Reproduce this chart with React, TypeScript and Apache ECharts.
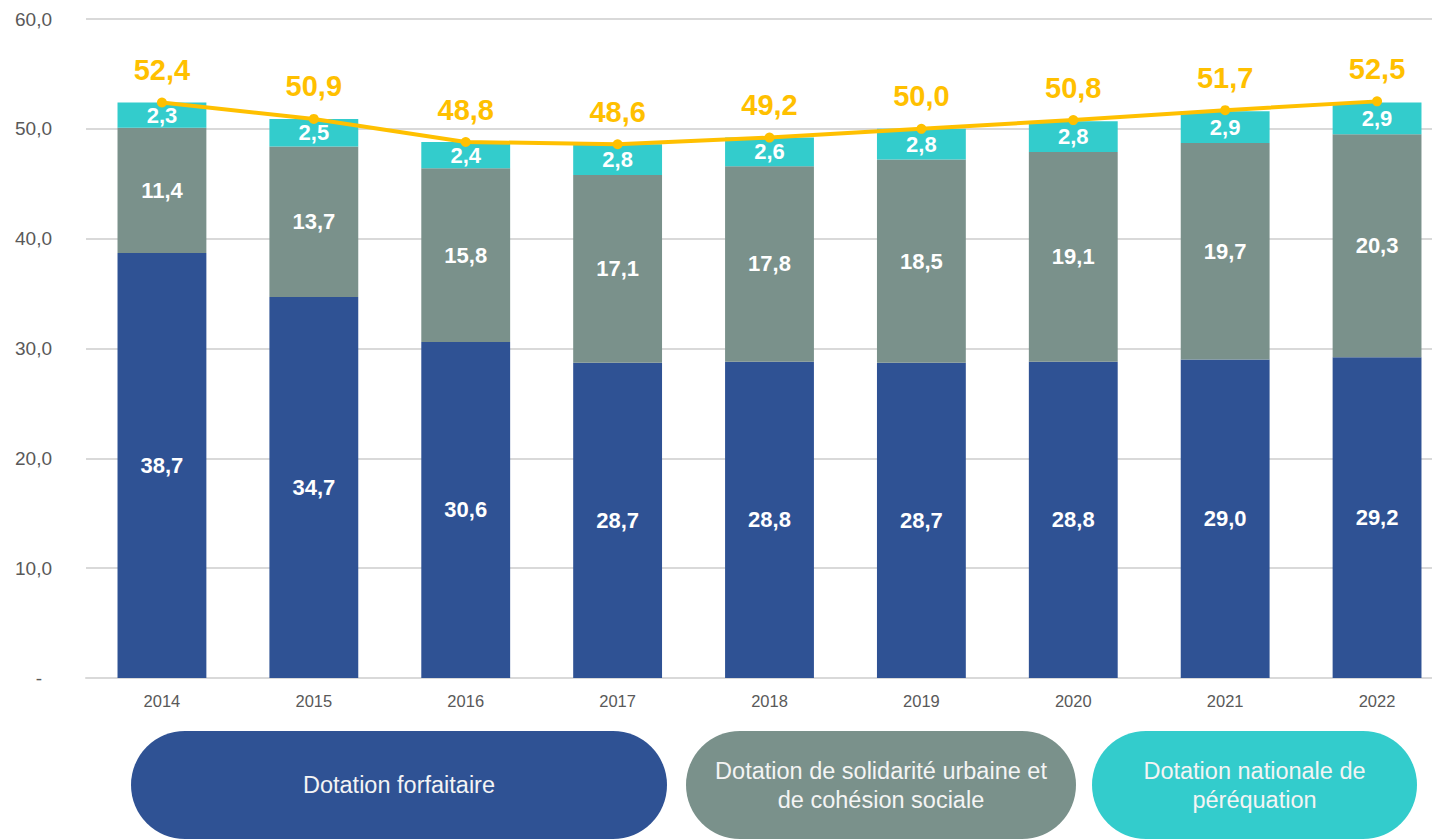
import React, { useEffect, useRef } from "react";
import * as echarts from "echarts";

const years = ["2014", "2015", "2016", "2017", "2018", "2019", "2020", "2021", "2022"];
const forfaitaire = [38.7, 34.7, 30.6, 28.7, 28.8, 28.7, 28.8, 29.0, 29.2];
const dsu = [11.4, 13.7, 15.8, 17.1, 17.8, 18.5, 19.1, 19.7, 20.3];
const dnp = [2.3, 2.5, 2.4, 2.8, 2.6, 2.8, 2.8, 2.9, 2.9];
const totals = [52.4, 50.9, 48.8, 48.6, 49.2, 50.0, 50.8, 51.7, 52.5];
const legendNames = [
  "Dotation forfaitaire",
  "Dotation de solidarité urbaine et\nde cohésion sociale",
  "Dotation nationale de\npéréquation",
];

const BLUE = "#2F5294";
const GREY = "#7A918B";
const TEAL = "#33CCCC";
const YELLOW = "#FFC000";
const FONT = "'Liberation Sans', Arial, sans-serif";

const fmt = (v: number) => v.toFixed(1).replace(".", ",");

export default function App() {
  const ref = useRef<HTMLDivElement>(null);
  useEffect(() => {
    if (!ref.current) return;
    const chart = echarts.init(ref.current, null, { renderer: "svg" });
    const barLabel = {
      show: true,
      position: "inside" as const,
      color: "#FFFFFF",
      fontWeight: "bold" as const,
      fontSize: 22,
      fontFamily: FONT,
      formatter: (p: any) => fmt(p.value),
    };
    const pills = [
      { x: 131, w: 536, color: BLUE, name: legendNames[0] },
      { x: 686, w: 390, color: GREY, name: legendNames[1] },
      { x: 1092, w: 325, color: TEAL, name: legendNames[2] },
    ];
    const graphic: any[] = [];
    pills.forEach((p) => {
      graphic.push({
        type: "rect",
        shape: { x: p.x, y: 731, width: p.w, height: 108, r: 54 },
        style: { fill: p.color },
      });
      graphic.push({
        type: "text",
        x: p.x + p.w / 2,
        y: 785,
        style: {
          text: p.name,
          fill: "#F4F4F4",
          font: `23.5px ${FONT}`,
          textAlign: "center",
          textVerticalAlign: "middle",
          lineHeight: 29,
        },
      });
    });
    chart.setOption({
      animation: false,
      grid: { left: 86, top: 19, width: 1367, height: 659 },
      xAxis: {
        type: "category",
        data: years,
        axisLine: { lineStyle: { color: "#D9D9D9", width: 2 } },
        axisTick: { show: false },
        axisLabel: { color: "#595959", fontSize: 16.5, fontFamily: FONT, margin: 14 },
      },
      yAxis: {
        type: "value",
        min: 0,
        max: 60,
        interval: 10,
        axisLine: { show: false },
        axisTick: { show: false },
        splitLine: { lineStyle: { color: "#D9D9D9", width: 2 } },
        axisLabel: {
          color: "#595959",
          fontSize: 19,
          fontFamily: FONT,
          margin: 34,
          formatter: (v: number) => (v === 0 ? "{d|-}" : fmt(v)),
          rich: { d: { padding: [0, 10, 0, 0], color: "#595959", fontSize: 19, fontFamily: FONT } },
        },
      },
      series: [
        { name: "forfaitaire", type: "bar", stack: "a", data: forfaitaire, barWidth: "58.5%", itemStyle: { color: BLUE }, label: barLabel },
        { name: "dsu", type: "bar", stack: "a", data: dsu, itemStyle: { color: GREY }, label: barLabel },
        { name: "dnp", type: "bar", stack: "a", data: dnp, itemStyle: { color: TEAL }, label: barLabel },
        {
          name: "total",
          type: "line",
          data: totals,
          symbol: "circle",
          symbolSize: 10,
          lineStyle: { color: YELLOW, width: 4 },
          itemStyle: { color: YELLOW },
          z: 5,
          label: {
            show: true,
            position: "top",
            distance: 13,
            color: YELLOW,
            fontWeight: "bold",
            fontSize: 29,
            fontFamily: FONT,
            formatter: (p: any) => fmt(p.value),
          },
        },
      ],
      graphic,
    });
    return () => chart.dispose();
  }, []);
  return (
    <div
      style={{ position: "fixed", left: 0, top: 0, width: 1432, height: 839, overflow: "hidden", background: "#FFFFFF" }}
    >
      <div ref={ref} style={{ position: "absolute", left: 0, top: 0, width: 1470, height: 839 }} />
    </div>
  );
}
